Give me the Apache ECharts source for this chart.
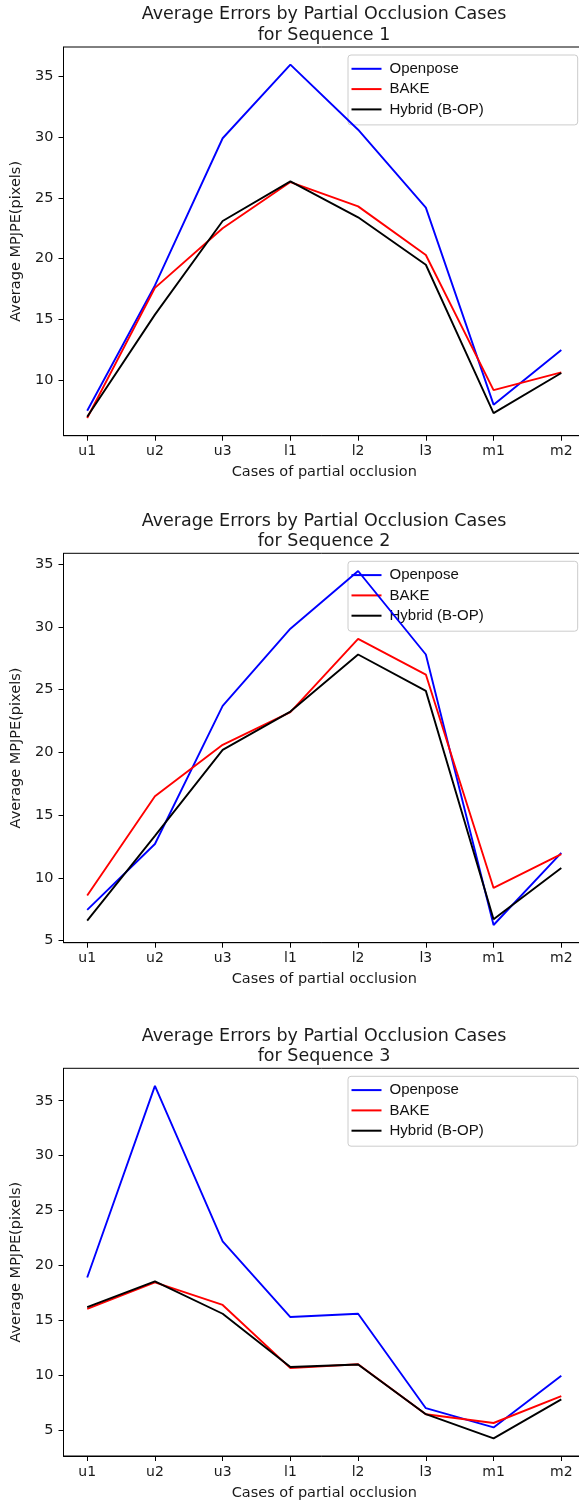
<!DOCTYPE html>
<html><head><meta charset="utf-8">
<script src="https://cdn.jsdelivr.net/npm/echarts@6/dist/echarts.min.js"></script>
<style>html,body{margin:0;padding:0;background:#fff}#c{width:579px;height:1503px}</style>
</head><body><div id="c"></div>
<script>
const categories = ['u1','u2','u3','l1','l2','l3','m1','m2'];
const seriesNames = ['Openpose','BAKE','Hybrid (B-OP)'];
const seq1Openpose = [7.5, 17.8, 29.9, 35.95, 30.6, 24.2, 8.0, 12.5];
const seq1Bake     = [6.9, 17.6, 22.5, 26.3, 24.3, 20.3, 9.2, 10.65];
const seq1Hybrid   = [7.0, 15.4, 23.1, 26.35, 23.4, 19.5, 7.3, 10.6];
const seq2Openpose = [7.45, 12.7, 23.7, 29.85, 34.45, 27.8, 6.25, 12.0];
const seq2Bake     = [8.6, 16.5, 20.6, 23.2, 29.05, 26.2, 9.2, 11.9];
const seq2Hybrid   = [6.6, 13.35, 20.2, 23.25, 27.8, 24.9, 6.7, 10.8];
const seq3Openpose = [18.9, 36.35, 22.2, 15.3, 15.6, 7.0, 5.25, 9.95];
const seq3Bake     = [16.05, 18.45, 16.4, 10.65, 11.0, 6.45, 5.65, 8.1];
const seq3Hybrid   = [16.2, 18.55, 15.6, 10.75, 10.98, 6.45, 4.25, 7.8];
const yTicks1 = [10, 15, 20, 25, 30, 35];
const yTicks2 = [5, 10, 15, 20, 25, 30, 35];
const yTicks3 = [5, 10, 15, 20, 25, 30, 35];
const xTickValues = [0, 1, 2, 3, 4, 5, 6, 7];
const titleTexts = [
  'Average Errors by Partial Occlusion Cases\nfor Sequence 1',
  'Average Errors by Partial Occlusion Cases\nfor Sequence 2',
  'Average Errors by Partial Occlusion Cases\nfor Sequence 3'
];
const xName = 'Cases of partial occlusion';
const yName = 'Average MPJPE(pixels)';
const colors = ['#0000ff', '#ff0000', '#000000'];

const panels = [
  {data: [seq1Openpose, seq1Bake, seq1Hybrid], ticks: yTicks1, top: 47, height: 388.7},
  {data: [seq2Openpose, seq2Bake, seq2Hybrid], ticks: yTicks2, top: 553.3, height: 389.4},
  {data: [seq3Openpose, seq3Bake, seq3Hybrid], ticks: yTicks3, top: 1068.3, height: 387.7}
];

const tickFont = 'DejaVu Sans';
const option = {
  animation: false,
  backgroundColor: '#fff',
  title: [], grid: [], xAxis: [], yAxis: [], legend: [], series: []
};

panels.forEach((p, k) => {
  const all = [].concat(...p.data);
  const lo = Math.min(...all), hi = Math.max(...all);
  const pad = (hi - lo) * 0.05;
  option.title.push({
    text: titleTexts[k], left: 324, top: p.top - 42.5, textAlign: 'center', padding: 0,
    textStyle: {fontFamily: tickFont, fontSize: 17.5, fontWeight: 'normal', color: '#1a1a1a', lineHeight: 20.7}
  });
  option.grid.push({
    left: 63.5, top: p.top, width: 521.5, height: p.height,
    show: true, borderColor: '#000', borderWidth: 1, backgroundColor: 'transparent',
    outerBoundsMode: 'none', containLabel: false
  });
  option.xAxis.push({
    type: 'value', gridIndex: k, min: -0.35, max: 7.35,
    name: xName, nameLocation: 'middle', nameGap: 29.5,
    nameTextStyle: {fontFamily: tickFont, fontSize: 14.5, color: '#1a1a1a'},
    axisLine: {show: true, onZero: false, lineStyle: {color: '#000', width: 1}},
    axisTick: {show: true, length: 5, lineStyle: {color: '#000'}, customValues: xTickValues},
    axisLabel: {customValues: xTickValues, margin: 9, fontFamily: tickFont, fontSize: 14, color: '#1a1a1a',
      formatter: v => categories[Math.round(v)]},
    splitLine: {show: false}
  });
  option.yAxis.push({
    type: 'value', gridIndex: k, min: lo - pad, max: hi + pad,
    name: yName, nameLocation: 'middle', nameGap: 28, nameRotate: 90,
    nameTextStyle: {fontFamily: tickFont, fontSize: 14.5, color: '#1a1a1a'},
    axisLine: {show: true, onZero: false, lineStyle: {color: '#000', width: 1}},
    axisTick: {show: true, length: 5, lineStyle: {color: '#000'}, customValues: p.ticks},
    axisLabel: {customValues: p.ticks, margin: 10, fontFamily: tickFont, fontSize: 14.5, color: '#1a1a1a'},
    splitLine: {show: false}
  });
  option.legend.push({
    orient: 'vertical', left: 348, top: p.top + 8, z: 1,
    data: seriesNames, icon: 'rect', itemWidth: 30, itemHeight: 2, itemGap: 4.3,
    padding: [5.8, 94, 7.5, 3.5],
    backgroundColor: 'rgba(255,255,255,0.8)', borderColor: '#cccccc', borderWidth: 1, borderRadius: 3,
    selectedMode: false,
    textStyle: {fontFamily: 'Liberation Sans', fontSize: 15, color: '#111', lineHeight: 16, padding: [0, 0, 0, 3]}
  });
  p.data.forEach((arr, i) => {
    option.series.push({
      type: 'line', name: seriesNames[i], xAxisIndex: k, yAxisIndex: k, z: 3,
      data: arr.map((v, j) => [j, v]),
      showSymbol: false, symbol: 'none',
      lineStyle: {color: colors[i], width: 1.9}, itemStyle: {color: colors[i]}
    });
  });
});

const chart = echarts.init(document.getElementById('c'), null, {renderer: 'canvas'});
chart.setOption(option);
</script>
</body></html>
